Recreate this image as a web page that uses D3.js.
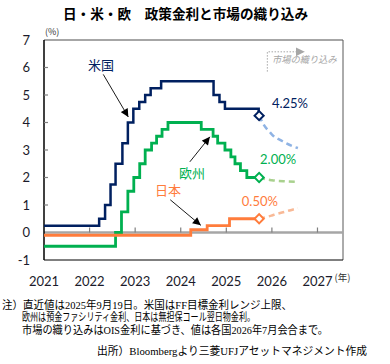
<!DOCTYPE html>
<html>
<head>
<meta charset="utf-8">
<script src="https://cdn.jsdelivr.net/npm/d3@7"></script>
<style>
  body { margin: 0; background: #fff; }
  svg { display: block; }
</style>
</head>
<body>
<div id="chart"></div>
<script>
// Tick values
const yTicks = [-1, 0, 1, 2, 3, 4, 5, 6, 7];
const xYears = [2021, 2022, 2023, 2024, 2025, 2026, 2027];

// US: FF target upper bound (decimal year, %)
const usDates = [2021.0, 2022.21, 2022.34, 2022.46, 2022.57, 2022.72, 2022.84, 2022.96, 2023.09, 2023.22, 2023.34, 2023.57, 2024.72, 2024.85, 2024.97, 2025.71, 2025.72];
const usRates = [0.25, 0.5, 1.0, 1.75, 2.5, 3.25, 4.0, 4.5, 4.75, 5.0, 5.25, 5.5, 5.0, 4.75, 4.5, 4.25, 4.25];

// Euro area: deposit facility rate
const euDates = [2021.0, 2022.57, 2022.70, 2022.84, 2022.97, 2023.10, 2023.22, 2023.36, 2023.47, 2023.59, 2023.72, 2024.45, 2024.71, 2024.81, 2024.97, 2025.10, 2025.19, 2025.31, 2025.45, 2025.72];
const euRates = [-0.5, 0.0, 0.75, 1.5, 2.0, 2.5, 3.0, 3.25, 3.5, 3.75, 4.0, 3.75, 3.5, 3.25, 3.0, 2.75, 2.5, 2.25, 2.0, 2.0];

// Japan: uncollateralized overnight call rate
const jpDates = [2021.0, 2024.22, 2024.58, 2025.07, 2025.72];
const jpRates = [-0.1, 0.1, 0.25, 0.5, 0.5];

// Market pricing (OIS) up to July 2026 meetings
const usFcDates = [2025.72, 2025.82, 2025.96, 2026.04, 2026.2, 2026.32, 2026.45, 2026.57];
const usFcRates = [4.25, 3.92, 3.64, 3.5, 3.35, 3.24, 3.14, 3.07];
const euFcDates = [2025.72, 2025.85, 2026.0, 2026.3, 2026.57];
const euFcRates = [2.0, 1.94, 1.9, 1.86, 1.84];
const jpFcDates = [2025.72, 2025.85, 2026.0, 2026.1, 2026.3, 2026.45, 2026.57];
const jpFcRates = [0.5, 0.55, 0.62, 0.67, 0.76, 0.83, 0.88];

const latestDate = 2025.72;
const latestLabels = ['4.25%', '2.00%', '0.50%'];
const seriesNames = ['米国', '欧州', '日本'];

const notes = [
  '注）直近値は2025年9月19日。米国はFF目標金利レンジ上限、',
  '欧州は預金ファシリティ金利、日本は無担保コール翌日物金利。',
  '市場の織り込みはOIS金利に基づき、値は各国2026年7月会合まで。'
];
const source = '出所）Bloombergより三菱UFJアセットマネジメント作成';

const W = 390, H = 364;
const margin = { top: 40, right: 47, bottom: 104, left: 44 };
const width = W - margin.left - margin.right;
const height = H - margin.top - margin.bottom;

const jpFont = '"Noto Sans CJK JP", sans-serif';
const numFont = 'Lato, "Noto Sans CJK JP", sans-serif';
const noteFont = '"Liberation Serif", "Noto Sans CJK JP", serif';

const svgRoot = d3.select('#chart')
  .append('svg')
  .attr('width', W)
  .attr('height', H);

const defs = svgRoot.append('defs');
defs.append('marker')
  .attr('id', 'arrow')
  .attr('viewBox', '0 0 10 10')
  .attr('refX', 10).attr('refY', 5)
  .attr('markerWidth', 9).attr('markerHeight', 8)
  .attr('markerUnits', 'userSpaceOnUse')
  .attr('orient', 'auto')
  .append('path').attr('d', 'M0,0 L10,5 L0,10 Z').attr('fill', '#000');
defs.append('marker')
  .attr('id', 'arrowGray')
  .attr('viewBox', '0 0 10 10')
  .attr('refX', 10).attr('refY', 5)
  .attr('markerWidth', 9).attr('markerHeight', 9)
  .attr('markerUnits', 'userSpaceOnUse')
  .attr('orient', 'auto')
  .append('path').attr('d', 'M0,0 L10,5 L0,10 Z').attr('fill', '#a6a6a6');

// Title
svgRoot.append('text')
  .attr('x', 63).attr('y', 19)
  .attr('textLength', 245).attr('lengthAdjust', 'spacingAndGlyphs')
  .style('font-family', jpFont).style('font-size', '13.5px').style('font-weight', 'bold')
  .attr('fill', '#000')
  .text('日・米・欧　政策金利と市場の織り込み');

const svg = svgRoot.append('g')
  .attr('transform', `translate(${margin.left},${margin.top})`);

// Scales
const x = d3.scaleLinear().domain([2021, 2027.56]).range([0, width]);
const y = d3.scaleLinear().domain([-1, 7]).range([height, 0]);

// Frame
svg.append('line').attr('x1', 0).attr('x2', width).attr('y1', 0).attr('y2', 0)
  .attr('stroke', '#a6a6a6').attr('stroke-width', 2);
svg.append('line').attr('x1', width).attr('x2', width).attr('y1', 0).attr('y2', height)
  .attr('stroke', '#595959').attr('stroke-width', 1);
svg.append('line').attr('x1', 0).attr('x2', width).attr('y1', height).attr('y2', height)
  .attr('stroke', '#000').attr('stroke-width', 1);

// Zero line with year ticks
svg.append('line').attr('x1', 0).attr('x2', width).attr('y1', y(0)).attr('y2', y(0))
  .attr('stroke', '#a6a6a6').attr('stroke-width', 2.5);
svg.selectAll('.xtick')
  .data(xYears.slice(1))
  .enter().append('line')
  .attr('class', 'xtick')
  .attr('x1', d => x(d)).attr('x2', d => x(d))
  .attr('y1', y(0)).attr('y2', y(0) - 5)
  .attr('stroke', '#7f7f7f').attr('stroke-width', 1.2);

// Y axis
svg.append('line').attr('x1', 0).attr('x2', 0).attr('y1', 0).attr('y2', height)
  .attr('stroke', '#000').attr('stroke-width', 1.5);
svg.selectAll('.ytick')
  .data(yTicks.filter(d => d > -1 && d < 7 && d !== 0))
  .enter().append('line')
  .attr('class', 'ytick')
  .attr('x1', 0).attr('x2', 4)
  .attr('y1', d => y(d)).attr('y2', d => y(d))
  .attr('stroke', '#7f7f7f').attr('stroke-width', 1.2);
svg.selectAll('.ylabel')
  .data(yTicks)
  .enter().append('text')
  .attr('class', 'ylabel')
  .attr('x', -14).attr('y', d => y(d))
  .attr('dy', '0.35em')
  .attr('text-anchor', 'end')
  .style('font-family', numFont).style('font-size', '13px')
  .attr('fill', '#1b1b2b')
  .text(d => d);

svg.selectAll('.xlabel')
  .data(xYears)
  .enter().append('text')
  .attr('class', 'xlabel')
  .attr('x', d => x(d)).attr('y', height + 26)
  .attr('text-anchor', 'middle')
  .style('font-family', numFont).style('font-size', '13px')
  .attr('fill', '#1b1b2b')
  .text(d => d);

svg.append('text')
  .attr('x', 1).attr('y', -5)
  .style('font-family', jpFont).style('font-size', '9px')
  .attr('fill', '#333')
  .text('(%)');
svg.append('text')
  .attr('x', x(2027) + 17).attr('y', height + 21)
  .style('font-family', jpFont).style('font-size', '9.5px')
  .attr('fill', '#333')
  .text('(年)');

// Series
const series = [
  { dates: usDates, rates: usRates, fcDates: usFcDates, fcRates: usFcRates, color: '#002060', fc: '#8fb3e4', width: 2.5 },
  { dates: euDates, rates: euRates, fcDates: euFcDates, fcRates: euFcRates, color: '#00b050', fc: '#a9d18e', width: 2.8 },
  { dates: jpDates, rates: jpRates, fcDates: jpFcDates, fcRates: jpFcRates, color: '#ff7c3c', fc: '#f8b996', width: 2.8 }
];

const stepLine = d3.line().x(d => x(d[0])).y(d => y(d[1])).curve(d3.curveStepAfter);
const smoothLine = d3.line().x(d => x(d[0])).y(d => y(d[1])).curve(d3.curveMonotoneX);

series.forEach(s => {
  svg.append('path')
    .datum(s.fcDates.map((d, i) => [d, s.fcRates[i]]))
    .attr('d', smoothLine)
    .attr('fill', 'none')
    .attr('stroke', s.fc)
    .attr('stroke-width', 2.5)
    .attr('stroke-dasharray', '6,4');
});

series.forEach(s => {
  svg.append('path')
    .datum(s.dates.map((d, i) => [d, s.rates[i]]))
    .attr('d', stepLine)
    .attr('fill', 'none')
    .attr('stroke', s.color)
    .attr('stroke-width', s.width);
});

// Latest value markers
svg.selectAll('.latest')
  .data(series)
  .enter().append('path')
  .attr('class', 'latest')
  .attr('d', d3.symbol(d3.symbolSquare, 42))
  .attr('transform', d => `translate(${x(latestDate)},${y(d.rates[d.rates.length - 1])}) rotate(45)`)
  .attr('fill', '#fff')
  .attr('stroke', d => d.color)
  .attr('stroke-width', 2);

// Value labels (data-space positions)
const valuePos = [[2026.0, 4.52], [2025.74, 2.5], [2025.34, 0.97]];
svg.selectAll('.vlabel')
  .data(series)
  .enter().append('text')
  .attr('class', 'vlabel')
  .attr('x', (d, i) => x(valuePos[i][0]))
  .attr('y', (d, i) => y(valuePos[i][1]))
  .style('font-family', numFont).style('font-size', '13px')
  .attr('fill', d => d.color)
  .text((d, i) => latestLabels[i]);

// Series name labels with arrows
const namePos = [[2022.25, 6.09], [2024.25, 2.16], [2023.72, 1.55]];
const arrowFrom = [[2022.3, 5.75], [2024.2, 2.57], [2023.77, 1.19]];
const arrowTo = [[2022.85, 4.2], [2024.64, 3.48], [2024.44, 0.26]];
svg.selectAll('.sname')
  .data(series)
  .enter().append('text')
  .attr('class', 'sname')
  .attr('x', (d, i) => x(namePos[i][0]))
  .attr('y', (d, i) => y(namePos[i][1]))
  .attr('dy', '0.38em')
  .attr('text-anchor', 'middle')
  .style('font-family', jpFont).style('font-size', '13px')
  .attr('fill', d => d.color)
  .text((d, i) => seriesNames[i]);
svg.selectAll('.sarrow')
  .data(series)
  .enter().append('line')
  .attr('class', 'sarrow')
  .attr('x1', (d, i) => x(arrowFrom[i][0])).attr('y1', (d, i) => y(arrowFrom[i][1]))
  .attr('x2', (d, i) => x(arrowTo[i][0])).attr('y2', (d, i) => y(arrowTo[i][1]))
  .attr('stroke', '#000').attr('stroke-width', 0.9)
  .attr('marker-end', 'url(#arrow)');

// Market pricing note
const bx = x(2025.9), by = y(6.57);
svg.append('path')
  .attr('d', `M${bx},${y(5.85)} L${bx},${by} L${x(2026.72)},${by}`)
  .attr('fill', 'none')
  .attr('stroke', '#a6a6a6').attr('stroke-width', 1)
  .attr('stroke-dasharray', '1.5,1.5')
  .attr('marker-end', 'url(#arrowGray)');
svg.append('text')
  .attr('x', x(2026.0)).attr('y', y(6.15))
  .attr('textLength', 65).attr('lengthAdjust', 'spacingAndGlyphs')
  .style('font-family', jpFont).style('font-size', '9.5px').style('font-style', 'italic')
  .attr('fill', '#a6a6a6')
  .text('市場の織り込み');

// Footnotes
const noteX = [2, 22, 22];
const noteLen = [290, 233, 306];
svgRoot.selectAll('.note')
  .data(notes)
  .enter().append('text')
  .attr('class', 'note')
  .attr('x', (d, i) => noteX[i])
  .attr('y', (d, i) => 309 + i * 12.4)
  .attr('textLength', (d, i) => noteLen[i]).attr('lengthAdjust', 'spacingAndGlyphs')
  .style('font-family', noteFont).style('font-size', '11px')
  .attr('fill', '#000')
  .text(d => d);
svgRoot.append('text')
  .attr('x', 97).attr('y', 355)
  .attr('textLength', 270).attr('lengthAdjust', 'spacingAndGlyphs')
  .style('font-family', noteFont).style('font-size', '11px')
  .attr('fill', '#000')
  .text(source);
</script>
</body>
</html>
